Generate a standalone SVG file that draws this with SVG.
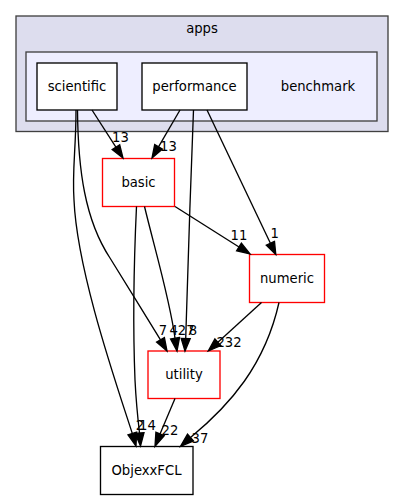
<svg xmlns="http://www.w3.org/2000/svg" width="404" height="500" viewBox="0 0 404 500">
<style>
text{font-family:"DejaVu Sans","Liberation Sans",sans-serif;font-size:13.2px;fill:#000}
.c{text-anchor:middle}
.n{fill:#fff;stroke:#000;stroke-width:1.33}
.r{fill:#fff;stroke:#f00;stroke-width:1.33}
.e path{fill:none;stroke:#000;stroke-width:1.33}
.e polygon{fill:#000;stroke:#000;stroke-width:1.33}
</style>
<rect width="404" height="500" fill="#fff"/>
<g id="cluster_apps">
<rect x="16" y="16" width="372" height="115.5" fill="#ddddee" stroke="#404040" stroke-width="1.33"/>
<text class="c" x="202" y="32.5">apps</text>
</g>
<g id="cluster_benchmark">
<rect x="26" y="52" width="351" height="69" fill="#eeeeff" stroke="#404040" stroke-width="1.33"/>
<text class="c" x="318" y="91">benchmark</text>
</g>
<g id="scientific">
<rect class="n" x="37" y="63" width="80" height="47"/>
<text class="c" x="77" y="91">scientific</text>
</g>
<g id="performance">
<rect class="n" x="142" y="63" width="105" height="47"/>
<text class="c" x="194.5" y="91">performance</text>
</g>
<g id="basic">
<rect class="r" x="102.5" y="158.5" width="72" height="48"/>
<text class="c" x="138.5" y="186.5">basic</text>
</g>
<g id="numeric">
<rect class="r" x="249.5" y="254.5" width="75" height="48"/>
<text class="c" x="287" y="282.5">numeric</text>
</g>
<g id="utility">
<rect class="r" x="148" y="351" width="72" height="47.5"/>
<text class="c" x="184" y="378.5">utility</text>
</g>
<g id="ObjexxFCL">
<rect class="n" x="100.5" y="446.5" width="92.5" height="48"/>
<text class="c" x="146.5" y="474.5">ObjexxFCL</text>
</g>
<g id="edges" class="e">
<path d="M92,110 L115.9,147.1"/>
<polygon points="112.2,149.5 119.7,144.7 123,158"/>
<text class="c" x="120.5" y="141.7">13</text>

<path d="M180,110 L158.5,146.8"/>
<polygon points="162.4,149.1 154.7,144.5 152,158"/>
<text class="c" x="168.5" y="150.7">13</text>

<path d="M76,110 C76,150 72,170 74,200 C77,270 115,380 132.3,433.5"/>
<polygon points="136.6,432.2 128,434.8 136,446"/>
<text class="c" x="140" y="430">2</text>

<path d="M77.5,110 C78,170 85,220 110,258 C125,282 145,315 160.5,339.8"/>
<polygon points="164.4,337.5 156.6,342.1 167,351"/>
<text class="c" x="163" y="335">7</text>

<path d="M136.5,206.5 C134,260 133,330 135,380 C136,400 138,420 139.5,433"/>
<polygon points="144,432.7 135,433.3 140.5,446"/>
<text class="c" x="147.5" y="430">14</text>

<path d="M144.5,206.5 C155,250 170,300 175,338.2"/>
<polygon points="179.5,337.5 170.6,338.9 177,351"/>
<text class="c" x="182" y="335">427</text>

<path d="M193.5,110 C191,180 187,280 185.7,338.5"/>
<polygon points="190.2,338.6 181.2,338.4 185,351"/>
<text class="c" x="193" y="335">8</text>

<path d="M207,110 L270.4,243.3"/>
<polygon points="274.5,241.4 266.3,245.2 275.8,254.5"/>
<text class="c" x="274.7" y="238.3">1</text>

<path d="M175,206.5 L239,247"/>
<polygon points="241.4,243.2 236.6,250.8 250,254"/>
<text class="c" x="239" y="240.3">11</text>

<path d="M261.5,302.5 L217.9,342.3"/>
<polygon points="220.9,345.6 214.9,339 208.3,351"/>
<text class="c" x="229" y="347.3">232</text>

<path d="M279,302.5 C265,365 230,405 190.5,437.5"/>
<polygon points="193.5,440.9 187.5,434.1 180.5,446.3"/>
<text class="c" x="200" y="443.3">37</text>

<path d="M175,398.5 L160,434"/>
<polygon points="164.2,435.7 155.9,432.3 155,446.3"/>
<text class="c" x="170" y="435">22</text>
</g>
</svg>
